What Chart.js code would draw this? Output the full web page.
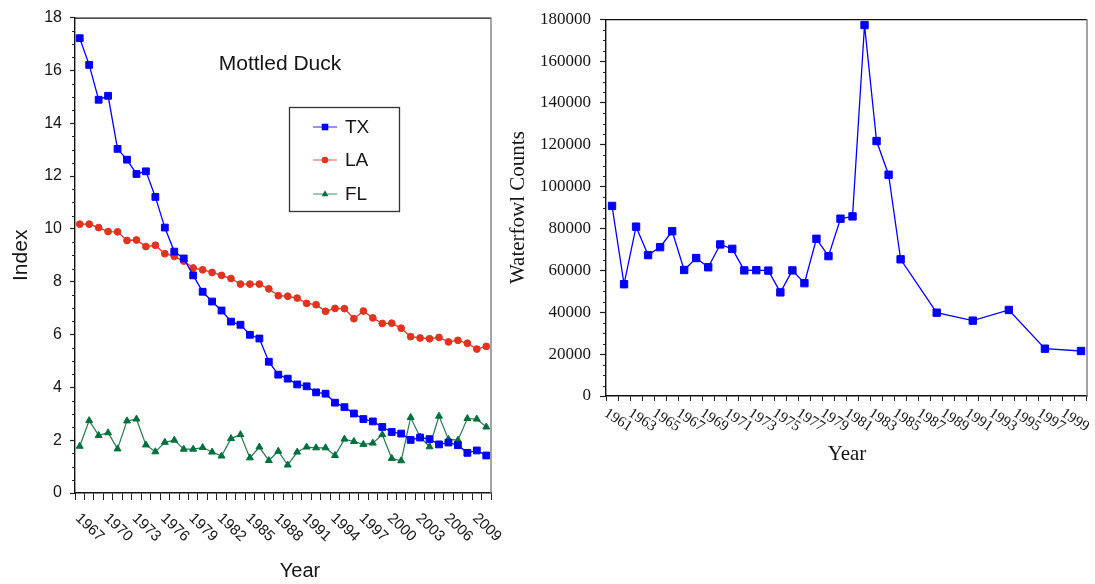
<!DOCTYPE html>
<html>
<head>
<meta charset="utf-8">
<title>Mottled Duck index and waterfowl counts</title>
<script src="https://cdn.jsdelivr.net/npm/chart.js@4.4.1/dist/chart.umd.min.js"></script>
<style>
  body { margin: 0; background: #fff; }
  #wrap { position: relative; width: 1095px; height: 584px; overflow: hidden; }
  canvas { position: absolute; top: 0; }
  #duck { left: 0; }
  #fowl { left: 500px; }
</style>
</head>
<body>
<div id="wrap">
  <canvas id="duck" width="520" height="584"></canvas>
  <canvas id="fowl" width="595" height="584"></canvas>
</div>
<script>
// Mottled Duck breeding index by state, 1967-2010
const duckYears = [1967, 1968, 1969, 1970, 1971, 1972, 1973, 1974, 1975, 1976, 1977,
  1978, 1979, 1980, 1981, 1982, 1983, 1984, 1985, 1986, 1987, 1988, 1989, 1990, 1991,
  1992, 1993, 1994, 1995, 1996, 1997, 1998, 1999, 2000, 2001, 2002, 2003, 2004, 2005,
  2006, 2007, 2008, 2009, 2010];
const txIndex = [17.22, 16.21, 14.89, 15.04, 13.03, 12.62, 12.08, 12.18, 11.21, 10.05, 9.14,
  8.88, 8.24, 7.62, 7.25, 6.91, 6.49, 6.37, 5.99, 5.85, 4.97, 4.48, 4.33, 4.11, 4.04,
  3.81, 3.76, 3.42, 3.25, 3.01, 2.80, 2.71, 2.50, 2.31, 2.25, 2.01, 2.10, 2.04, 1.84,
  1.91, 1.81, 1.52, 1.61, 1.42];
const laIndex = [10.18, 10.18, 10.05, 9.90, 9.89, 9.56, 9.58, 9.33, 9.38, 9.06, 8.96,
  8.78, 8.52, 8.45, 8.35, 8.24, 8.12, 7.91, 7.91, 7.91, 7.73, 7.47, 7.45, 7.38, 7.18,
  7.13, 6.88, 6.99, 6.98, 6.60, 6.89, 6.63, 6.42, 6.43, 6.24, 5.92, 5.87, 5.84, 5.89,
  5.72, 5.78, 5.67, 5.45, 5.55];
const flIndex = [1.77, 2.74, 2.18, 2.28, 1.67, 2.73, 2.80, 1.82, 1.56, 1.92, 2.00,
  1.66, 1.66, 1.72, 1.55, 1.40, 2.06, 2.21, 1.33, 1.74, 1.23, 1.58, 1.06, 1.55, 1.74,
  1.71, 1.71, 1.42, 2.04, 1.95, 1.84, 1.89, 2.21, 1.31, 1.22, 2.86, 2.12, 1.75, 2.91,
  2.03, 2.00, 2.82, 2.80, 2.50];

// Waterfowl counts, 1961-2000 (surveys every third year after 1985)
const countYears = [1961, 1962, 1963, 1964, 1965, 1966, 1967, 1968, 1969, 1970,
  1971, 1972, 1973, 1974, 1975, 1976, 1977, 1978, 1979, 1980,
  1981, 1982, 1983, 1984, 1985, 1986, 1987, 1988, 1989, 1990,
  1991, 1992, 1993, 1994, 1995, 1996, 1997, 1998, 1999, 2000];
const waterfowlCounts = [90800, 53400, 80900, 67300, 71100, 78700, 60200, 65900, 61500, 72400,
  70300, 60000, 60100, 59900, 49500, 60000, 53900, 75100, 66800, 84700,
  85800, 177200, 121800, 105700, 65300, null, null, 39800, null, null,
  36000, null, null, 41100, null, null, 22600, null, null, 21500];

const SANS = "'Liberation Sans', Arial, sans-serif";
const SERIF = "'Liberation Serif', 'Times New Roman', serif";
const INK = '#151515';

function drawMarker(ctx, style, x, y, r, color) {
  ctx.fillStyle = color;
  ctx.beginPath();
  if (style === 'rect') {
    ctx.rect(x - r, y - r, 2 * r, 2 * r);
  } else if (style === 'circle') {
    ctx.arc(x, y, r, 0, Math.PI * 2);
  } else {
    ctx.moveTo(x, y - r * 1.1);
    ctx.lineTo(x + r, y + r * 0.65);
    ctx.lineTo(x - r, y + r * 0.65);
    ctx.closePath();
  }
  ctx.fill();
}

// frame, minor y ticks, slanted year labels and the x title
const yearAxis = {
  id: 'yearAxis',
  afterDraw(chart, args, o) {
    const { ctx, chartArea: a } = chart;
    const xs = chart.scales.x, ys = chart.scales.y;
    ctx.save();

    ctx.lineWidth = 1.2;
    ctx.strokeStyle = '#111';
    ctx.beginPath();
    ctx.moveTo(a.left, a.top + 0.5);
    ctx.lineTo(a.right, a.top + 0.5);
    ctx.stroke();
    ctx.lineWidth = 1.5;
    ctx.strokeStyle = '#858585';
    ctx.beginPath();
    ctx.moveTo(a.right, a.top);
    ctx.lineTo(a.right, a.bottom);
    ctx.stroke();

    ctx.lineWidth = 1;
    ctx.strokeStyle = '#222';
    ctx.beginPath();
    for (let v = ys.min; v <= ys.max; v += o.minorStep) {
      if (Math.abs(v / o.majorStep - Math.round(v / o.majorStep)) < 1e-6) continue;
      const py = Math.round(ys.getPixelForValue(v)) + 0.5;
      ctx.moveTo(a.left - o.minorLen, py);
      ctx.lineTo(a.left, py);
    }
    ctx.stroke();

    ctx.font = o.tickFont;
    ctx.fillStyle = INK;
    ctx.textAlign = 'left';
    ctx.textBaseline = 'middle';
    const ang = o.angle * Math.PI / 180;
    xs.ticks.forEach((t, i) => {
      if (i % o.every !== 0) return;
      const px = xs.getPixelForTick(i);
      ctx.save();
      ctx.translate(px + o.dx, a.bottom + o.dy);
      ctx.rotate(ang);
      ctx.fillText(String(xs.getLabelForValue(i)), 0, 0);
      ctx.restore();
    });

    ctx.font = o.titleFont;
    ctx.textAlign = 'center';
    ctx.fillText('Year', o.titleX, o.titleY);
    ctx.restore();
  }
};

// chart heading and boxed legend inside the index plot
const duckLegend = {
  id: 'duckLegend',
  afterDraw(chart) {
    const { ctx } = chart;
    ctx.save();
    ctx.font = '21px ' + SANS;
    ctx.fillStyle = INK;
    ctx.textAlign = 'center';
    ctx.textBaseline = 'middle';
    ctx.fillText('Mottled Duck', 280, 64);

    ctx.lineWidth = 1.3;
    ctx.strokeStyle = '#333';
    ctx.strokeRect(289.5, 107.5, 110, 104);

    const rows = [127, 160, 194];
    chart.data.datasets.forEach((ds, i) => {
      const yy = rows[i];
      ctx.globalAlpha = 0.65;
      ctx.strokeStyle = ds.borderColor;
      ctx.lineWidth = 1.3;
      ctx.beginPath();
      ctx.moveTo(313, yy);
      ctx.lineTo(337, yy);
      ctx.stroke();
      ctx.globalAlpha = 1;
      drawMarker(ctx, ds.pointStyle, 325, yy, 3.3, ds.pointBackgroundColor);
      ctx.font = '19px ' + SANS;
      ctx.fillStyle = INK;
      ctx.textAlign = 'left';
      ctx.fillText(ds.label, 345, yy + 1);
    });
    ctx.restore();
  }
};

const TX_BLUE = '#0000ff';
const LA_RED = '#e2331f';
const FL_GREEN = '#00703c';

new Chart(document.getElementById('duck'), {
  type: 'line',
  data: {
    labels: duckYears,
    datasets: [
      { label: 'TX', data: txIndex, borderColor: TX_BLUE, backgroundColor: TX_BLUE,
        pointBackgroundColor: TX_BLUE, pointBorderColor: TX_BLUE, pointStyle: 'rect',
        pointRadius: 4.8, pointBorderWidth: 1, borderWidth: 1.3, tension: 0 },
      { label: 'LA', data: laIndex, borderColor: LA_RED, backgroundColor: LA_RED,
        pointBackgroundColor: LA_RED, pointBorderColor: LA_RED, pointStyle: 'circle',
        pointRadius: 3.4, pointBorderWidth: 1, borderWidth: 1.3, tension: 0 },
      { label: 'FL', data: flIndex, borderColor: '#1f7a4c', backgroundColor: FL_GREEN,
        pointBackgroundColor: FL_GREEN, pointBorderColor: FL_GREEN, pointStyle: 'triangle',
        pointRadius: 4, pointBorderWidth: 1, borderWidth: 1.2, tension: 0 }
    ]
  },
  options: {
    responsive: false,
    animation: false,
    events: [],
    layout: { padding: { top: 16, right: 29, left: 0, bottom: 0 } },
    plugins: {
      legend: { display: false },
      tooltip: { enabled: false },
      yearAxis: {
        every: 3, angle: 44, dx: -2, dy: 23, tickFont: '15px ' + SANS,
        titleFont: '20px ' + SANS, titleX: 300, titleY: 571,
        minorStep: 0.5, majorStep: 2, minorLen: 3
      }
    },
    scales: {
      x: {
        offset: true,
        grid: { offset: true, drawOnChartArea: false, tickLength: 7, color: '#222', tickWidth: 1 },
        border: { color: '#111', width: 1.4 },
        ticks: { display: false },
        afterFit(s) { s.height = 91; }
      },
      y: {
        min: 0, max: 18,
        grid: { drawOnChartArea: false, tickLength: 5, color: '#222', tickWidth: 1.2 },
        border: { color: '#111', width: 1.4 },
        ticks: { stepSize: 2, padding: 8, color: INK, font: { family: SANS, size: 16 } },
        title: { display: true, text: 'Index', color: INK, font: { family: SANS, size: 21 },
                 padding: { top: 9, bottom: 0 } },
        afterFit(s) { s.width = 75; }
      }
    }
  },
  plugins: [yearAxis, duckLegend]
});

new Chart(document.getElementById('fowl'), {
  type: 'line',
  data: {
    labels: countYears,
    datasets: [
      { label: 'Waterfowl Counts', data: waterfowlCounts, spanGaps: true,
        borderColor: TX_BLUE, backgroundColor: TX_BLUE, pointBackgroundColor: TX_BLUE,
        pointBorderColor: TX_BLUE, pointStyle: 'rect', pointRadius: 5.2, pointBorderWidth: 1,
        borderWidth: 1.3, tension: 0 }
    ]
  },
  options: {
    responsive: false,
    animation: false,
    events: [],
    layout: { padding: { top: 16, right: 8, left: 0, bottom: 0 } },
    plugins: {
      legend: { display: false },
      tooltip: { enabled: false },
      yearAxis: {
        every: 2, angle: 33, dx: -6.5, dy: 16, tickFont: '15px ' + SERIF,
        titleFont: '21px ' + SERIF, titleX: 347, titleY: 454,
        minorStep: 5000, majorStep: 20000, minorLen: 3
      }
    },
    scales: {
      x: {
        offset: true,
        grid: { offset: true, drawOnChartArea: false, tickLength: 5, color: '#222', tickWidth: 1 },
        border: { color: '#111', width: 1.4 },
        ticks: { display: false },
        afterFit(s) { s.height = 188; }
      },
      y: {
        min: 0, max: 180000,
        grid: { drawOnChartArea: false, tickLength: 6, color: '#222', tickWidth: 1.2 },
        border: { color: '#111', width: 1.4 },
        ticks: { stepSize: 20000, padding: 9, color: INK, font: { family: SERIF, size: 17 },
                 callback: v => String(v) },
        title: { display: true, text: 'Waterfowl Counts', color: INK, font: { family: SERIF, size: 21 },
                 padding: { top: 6, bottom: 0 } },
        afterFit(s) { s.width = 106; }
      }
    }
  },
  plugins: [yearAxis]
});
</script>
</body>
</html>
